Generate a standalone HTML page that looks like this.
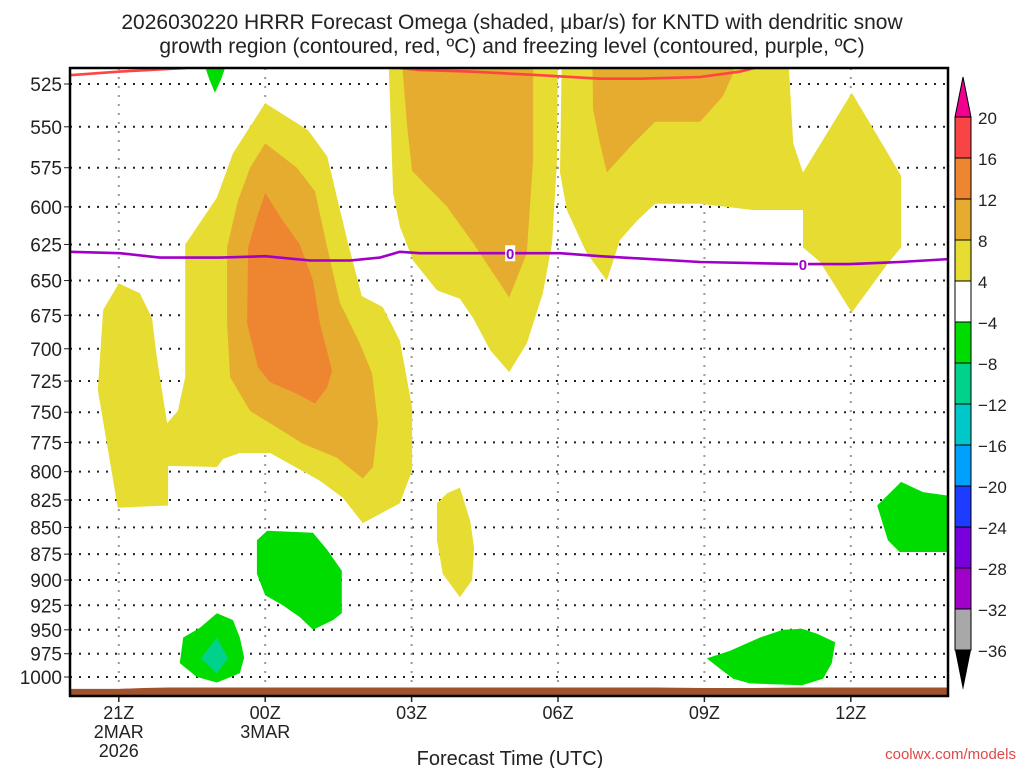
<!DOCTYPE html>
<html><head><meta charset="utf-8"><style>
html,body{margin:0;padding:0;background:#fff;width:1024px;height:768px;overflow:hidden}
svg{display:block;font-family:"Liberation Sans",sans-serif}
</style></head><body>
<svg id="chart" width="1024" height="768" viewBox="0 0 1024 768" xmlns="http://www.w3.org/2000/svg">
<rect width="1024" height="768" fill="#fff"/>
<text x="512" y="29" text-anchor="middle" font-size="21" fill="#222">2026030220 HRRR Forecast Omega (shaded, μbar/s) for KNTD with dendritic snow</text>
<text x="512" y="53" text-anchor="middle" font-size="21" fill="#222">growth region (contoured, red, ºC) and freezing level (contoured, purple, ºC)</text>
<defs><clipPath id="pc"><rect x="70" y="68" width="878" height="628"/></clipPath></defs>
<g id="grid"></g>
<g id="fills" clip-path="url(#pc)"></g>
<g id="lines" clip-path="url(#pc)"></g>
<g id="axes"></g>
<g id="cbar"></g>
<text x="510" y="765" text-anchor="middle" font-size="20" fill="#222">Forecast Time (UTC)</text>
<text x="1016" y="759" text-anchor="end" font-size="15" fill="#e04848">coolwx.com/models</text>
</svg>
<script>
// ---- data ----
const pressureTicks=[525,550,575,600,625,650,675,700,725,750,775,800,825,850,875,900,925,950,975,1000];
const timeTickHours=[1,4,7,10,13,16];
const timeTickLabels=[["21Z","2MAR","2026"],["00Z","3MAR"],["03Z"],["06Z"],["09Z"],["12Z"]];
const cbarLevels=["20","16","12","8","4","−4","−8","−12","−16","−20","−24","−28","−32","−36"];
const cbarColors=["#f84444","#ee8530","#e5ac30","#e6dc32","#ffffff","#00dc00","#00d28c","#00c8c8","#00a0ff","#1e3cff","#7800dc","#a000c8","#a8a8a8"];
const yellowMain=[[0.98,832],[0.57,732],[0.68,671],[1.0,652],[1.43,659],[1.68,677],[1.78,707],[1.99,759],[2.21,749],[2.36,722],[2.36,625],[3.01,594],[3.34,566],[4.0,536],[4.88,552],[5.27,568],[5.68,622],[5.98,661],[6.41,669],[6.76,694],[7.01,746],[7.01,799],[6.76,828],[6.0,846],[5.59,823],[5.12,808],[4.1,784],[3.48,784],[3.14,789],[3.01,796],[2.01,795],[2.01,830]];
const orangeMain=[[4.0,560],[4.65,575],[5.02,590],[5.27,627],[5.53,666],[5.94,696],[6.19,719],[6.31,759],[6.21,796],[6.0,806],[5.47,788],[4.77,776],[4.1,759],[3.69,749],[3.28,722],[3.22,681],[3.22,627],[3.44,596],[3.69,575]];
const darkOrangeMain=[[4.0,591],[4.36,609],[4.71,625],[4.98,650],[5.12,681],[5.37,717],[5.27,730],[5.02,743],[4.65,735],[4.1,726],[3.85,714],[3.63,681],[3.65,627],[3.83,607]];
const yellowMid=[[6.52,505],[6.62,591],[6.76,613],[7.03,636],[7.52,657],[7.99,663],[8.26,677],[8.61,701],[9.0,718],[9.36,696],[9.69,659],[9.88,624],[9.98,570],[10.0,505]];
const orangeMid=[[6.78,505],[6.91,550],[7.01,577],[7.73,600],[8.26,624],[9.0,662],[9.36,631],[9.49,570],[9.49,505]];
const yellowRight=[[10.08,505],[10.04,578],[10.18,602],[10.59,631],[11.0,650],[11.27,622],[11.62,609],[11.99,598],[12.91,598],[14.0,602],[15.02,602],[15.02,627],[15.37,637],[16.02,673],[16.76,638],[17.03,627],[17.03,580],[16.02,530],[15.02,578],[14.82,560],[14.71,505]];
const orangeRight=[[10.7,505],[10.72,540],[10.86,560],[11.0,578],[11.48,562],[11.99,547],[12.91,547],[13.38,532],[13.59,519],[13.67,505]];
const yellowSmall=[[7.99,814],[8.2,844],[8.28,869],[8.24,900],[7.99,917],[7.64,894],[7.52,862],[7.52,828],[7.73,819]];
const greenTop=[[2.64,505],[3.32,505],[3.1,522],[2.97,530],[2.85,522]];
const green00Z=[[4.04,853],[4.98,855],[5.27,871],[5.57,891],[5.57,933],[5.39,940],[4.98,950],[4.71,937],[4.36,925],[4.0,915],[3.83,894],[3.83,862]];
const greenLow=[[3.01,933],[3.34,940],[3.48,958],[3.57,979],[3.48,996],[3.01,1006],[2.6,1000],[2.25,985],[2.32,958],[2.66,948]];
const tealLow=[[3.01,958],[3.24,980],[3.01,996],[2.68,980]];
const greenBottomRight=[[13.05,980],[13.52,972],[14.14,958],[14.61,950],[15.0,949],[15.31,954],[15.68,963],[15.61,985],[15.43,1002],[15.0,1009],[13.93,1007],[13.59,1002],[13.32,991]];
const greenRight=[[17.03,809],[17.48,818],[18.3,823],[18.3,873],[17.0,873],[16.76,862],[16.54,830]];
const dendriticA=[[0,520],[1.02,518],[2.36,516],[2.7,513]];
const dendriticB=[[6.41,515],[7.17,517],[8.2,518],[9.63,520],[10.86,522],[11.68,522],[12.91,521],[13.73,518],[14.45,513]];
const freezingLevel=[[0,630],[1.02,631],[1.84,634],[3.07,634],[4.0,633],[4.92,636],[5.74,636],[6.35,634],[6.76,630],[7.17,631],[9.02,631],[10.04,631],[10.86,633],[12.91,637],[14.96,638.5],[15.98,638.5],[17.0,637],[18.0,635]];
const freezingLabelHours=[9.02,15.02];
const surfaceHours=[0,1,1.5,2,4,6,8,10,12,13,14,15,16,18];
const surfacePressure=[1013,1013,1012,1011.5,1011.5,1011.5,1011.5,1011.5,1011.5,1012,1012,1011.5,1011.5,1011.5];

// ---- axes ----
const X0=70,X1=948,Y0=68,Y1=696;
const xs=h=>X0+h*48.8;
const lnTop=Math.log(525),lnSpan=Math.log(1000)-Math.log(525);
const ys=p=>84+(Math.log(p)-lnTop)/lnSpan*593;
const NS="http://www.w3.org/2000/svg";
function mk(tag,attrs,parent){const e=document.createElementNS(NS,tag);for(const k in attrs)e.setAttribute(k,attrs[k]);parent.appendChild(e);return e;}
const grid=document.getElementById('grid'),fills=document.getElementById('fills'),lines=document.getElementById('lines'),axes=document.getElementById('axes'),cbar=document.getElementById('cbar');

pressureTicks.forEach(p=>{
 const l=mk('line',{x1:X0,x2:X1,y1:ys(p),y2:ys(p),stroke:'#222','stroke-width':2,'stroke-dasharray':'2 7'},grid);
 
 
 const t=mk('text',{x:62,y:ys(p)+7,'text-anchor':'end','font-size':19,fill:'#222'},axes);
 t.textContent=p;
 
 
 const tk=mk('line',{x1:64,x2:70,y1:ys(p),y2:ys(p),stroke:'#222','stroke-width':1},axes);
 
 
});
timeTickHours.forEach((h,i)=>{
 const l=mk('line',{x1:xs(h),x2:xs(h),y1:Y0,y2:Y1,stroke:'#999','stroke-width':2,'stroke-dasharray':'2 7'},grid);
 
 
 const tk=mk('line',{x1:xs(h),x2:xs(h),y1:Y1,y2:Y1+6,stroke:'#222','stroke-width':1.5},axes);
 
 
 timeTickLabels[i].forEach((s,j)=>{
  const t=mk('text',{x:xs(h),y:719+j*19,'text-anchor':'middle','font-size':18,fill:'#222'},axes);
  t.textContent=s;
  
  
 });
});
function poly(arr,color,name){
 const e=mk('polygon',{points:arr.map(d=>xs(d[0]).toFixed(1)+','+ys(d[1]).toFixed(1)).join(' '),fill:color},fills);
 
 
}
poly(yellowMain,'#e6dc32','omega-4-8-main');
poly(orangeMain,'#e5ac30','omega-8-12-main');
poly(darkOrangeMain,'#ee8530','omega-12-16-main');
poly(yellowMid,'#e6dc32','omega-4-8-mid');
poly(orangeMid,'#e5ac30','omega-8-12-mid');
poly(yellowRight,'#e6dc32','omega-4-8-right');
poly(orangeRight,'#e5ac30','omega-8-12-right');
poly(yellowSmall,'#e6dc32','omega-4-8-small');
poly(greenTop,'#00dc00','omega-neg-top');
poly(green00Z,'#00dc00','omega-neg-00z');
poly(greenLow,'#00dc00','omega-neg-low');
poly(tealLow,'#00d28c','omega-neg8-low');
poly(greenBottomRight,'#00dc00','omega-neg-bottom-right');
poly(greenRight,'#00dc00','omega-neg-right');
// surface
const sp=surfaceHours.map((h,i)=>xs(h).toFixed(1)+','+ys(surfacePressure[i]).toFixed(1));
const surf=mk('polygon',{points:sp.join(' ')+' '+xs(18)+','+(Y1)+' '+xs(0)+','+Y1,fill:'#a0522d'},fills);


function pl(arr,color,name){
 const e=mk('polyline',{points:arr.map(d=>xs(d[0]).toFixed(1)+','+ys(d[1]).toFixed(1)).join(' '),fill:'none',stroke:color,'stroke-width':2.6,'stroke-linejoin':'round'},lines);
 
 
}
pl(dendriticA,'#ff4444','dendritic-contour-a');
pl(dendriticB,'#ff4444','dendritic-contour-b');
pl(freezingLevel,'#a000c8','freezing-level-line');
freezingLabelHours.forEach((h,i)=>{
 let p=freezingLevel[0][1];
 for(let k=0;k<freezingLevel.length-1;k++){const a=freezingLevel[k],b=freezingLevel[k+1];if(h>=a[0]&&h<=b[0]){p=a[1]+(b[1]-a[1])*(h-a[0])/(b[0]-a[0]);}}
 const bg=mk('rect',{x:xs(h)-5,y:ys(p)-8,width:10,height:16,fill:'#fff'},lines);
 
 
 const t=mk('text',{x:xs(h),y:ys(p)+6,'text-anchor':'middle','font-size':15,'font-weight':'bold',fill:'#a000c8'},lines);
 t.textContent='0';
 
 
});
const frame=mk('rect',{x:X0,y:Y0,width:X1-X0,height:Y1-Y0,fill:'none',stroke:'#000','stroke-width':2.5},axes);


// colorbar
const CB0=955,CB1=971,CT=117,CS=41;
cbarColors.forEach((c,i)=>{
 const r=mk('rect',{x:CB0,y:CT+i*CS,width:CB1-CB0,height:CS,fill:c,stroke:'#000','stroke-width':1},cbar);
 
 
});
cbarLevels.forEach((s,i)=>{
 const t=mk('text',{x:978,y:CT+i*CS+7,'font-size':17,fill:'#222'},cbar);
 t.textContent=s;
 
 
});
const ta=mk('polygon',{points:CB0+','+CT+' '+CB1+','+CT+' '+((CB0+CB1)/2)+',77',fill:'#f0008c',stroke:'#000','stroke-width':1},cbar);


const be=CT+13*CS;
const ba=mk('polygon',{points:CB0+','+be+' '+CB1+','+be+' '+((CB0+CB1)/2)+','+(be+40),fill:'#000'},cbar);


</script>
</body></html>
